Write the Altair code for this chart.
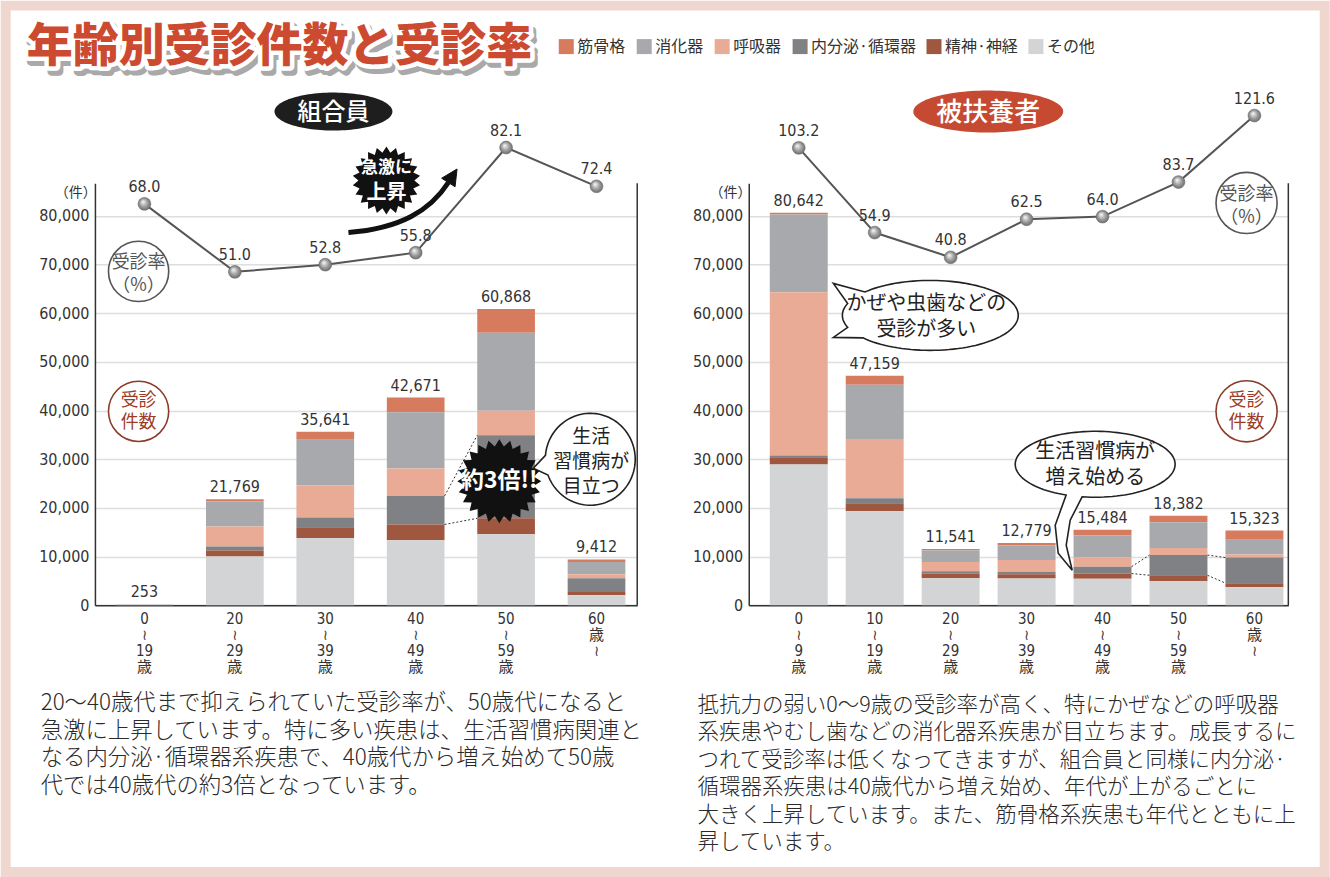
import altair as alt
import numpy as np
import pandas as pd

JP = "Noto Sans CJK JP"
NUM = "'Liberation Sans Narrow', 'DejaVu Sans Condensed', 'Noto Sans CJK JP', sans-serif"

# ---------------- data ----------------
title_text = "年齢別受診件数と受診率"
diseases = ["筋骨格", "消化器", "呼吸器", "内分泌·循環器", "精神·神経", "その他"]
disease_colors = ["#d77b5f", "#a8a9ac", "#e9ab96", "#808184", "#a0573f", "#d3d4d6"]
stack_rank = [5, 4, 3, 2, 1, 0]

# 組合員
ages_L = ["0|≀|19|歳", "20|≀|29|歳", "30|≀|39|歳", "40|≀|49|歳", "50|≀|59|歳", "60|歳|≀"]
L_kinkokkaku = [0, 469, 1641, 3031, 4868, 542]
L_shoka = [0, 5150, 9400, 11530, 16030, 2520]
L_kokyu = [0, 4100, 6600, 5660, 5070, 820]
L_naibunpi = [0, 800, 2000, 5870, 17050, 2800]
L_seishin = [0, 1250, 2200, 3230, 3250, 680]
L_sonota = [253, 10000, 13800, 13350, 14600, 2050]
L_total = [253, 21769, 35641, 42671, 60868, 9412]
L_rate = [68.0, 51.0, 52.8, 55.8, 82.1, 72.4]

# 被扶養者
ages_R = ["0|≀|9|歳", "10|≀|19|歳", "20|≀|29|歳", "30|≀|39|歳", "40|≀|49|歳", "50|≀|59|歳", "60|歳|≀"]
R_kinkokkaku = [352, 1839, 281, 489, 1134, 1362, 1853]
R_shoka = [15990, 11150, 2370, 3000, 4530, 5290, 3050]
R_kokyu = [33530, 12210, 1930, 2430, 1910, 1430, 640]
R_naibunpi = [370, 1000, 440, 500, 1410, 4150, 5250]
R_seishin = [1500, 1640, 1000, 860, 1060, 1210, 850]
R_sonota = [28900, 19320, 5520, 5500, 5440, 4940, 3680]
R_total = [80642, 47159, 11541, 12779, 15484, 18382, 15323]
R_rate = [103.2, 54.9, 40.8, 62.5, 64.0, 83.7, 121.6]

y_ticks = [0, 10000, 20000, 30000, 40000, 50000, 60000, 70000, 80000]

text_L = [
    "20〜40歳代まで抑えられていた受診率が、50歳代になると",
    "急激に上昇しています。特に多い疾患は、生活習慣病関連と",
    "なる内分泌·循環器系疾患で、40歳代から増え始めて50歳",
    "代では40歳代の約3倍となっています。",
]
text_R = [
    "抵抗力の弱い0〜9歳の受診率が高く、特にかぜなどの呼吸器",
    "系疾患やむし歯などの消化器系疾患が目立ちます。成長するに",
    "つれて受診率は低くなってきますが、組合員と同様に内分泌·",
    "循環器系疾患は40歳代から増え始め、年代が上がるごとに",
    "大きく上昇しています。また、筋骨格系疾患も年代とともに上",
    "昇しています。",
]

# ---------------- helpers ----------------
H = 422.3
YMAX = 86730
OY = 182.7
OXL = 94.3
OXR = 748.3


def long_df(ages, cols):
    rows = []
    for d, r, vals in zip(diseases, stack_rank, cols):
        for a, v in zip(ages, vals):
            rows.append({"age": a, "disease": d, "value": v, "rank": r})
    return pd.DataFrame(rows)


def link_df(ages, sonota, seishin, naibunpi, pairs):
    lo = [a + b for a, b in zip(sonota, seishin)]
    hi = [l + n for l, n in zip(lo, naibunpi)]
    rows = []
    for i, j in pairs:
        rows.append({"age": ages[i], "age2": ages[j], "y": lo[i], "y2": lo[j]})
        rows.append({"age": ages[i], "age2": ages[j], "y": hi[i], "y2": hi[j]})
    return pd.DataFrame(rows)


def ellipse_pts(rx, ry, a0, a1, n):
    t = np.radians(np.linspace(a0, a1, n))
    return list(zip(rx * np.cos(t), ry * np.sin(t)))


def bubble_path(rx, ry, tails=()):
    pts = []
    cur = 0
    for d0, d1, tp in tails:
        pts += ellipse_pts(rx, ry, cur, d0, max(2, int((d0 - cur) / 3)))
        pts += tp
        cur = d1
    pts += ellipse_pts(rx, ry, cur, 360, max(2, int((360 - cur) / 3)))
    return "M" + " L".join(f"{x:.2f} {y:.2f}" for x, y in pts) + " Z"


def star_path(n, ro, ri):
    k = np.arange(2 * n)
    t = np.radians(k * 180.0 / n - 90)
    r = np.where(k % 2 == 0, ro, ri)
    pts = list(zip(r * np.cos(t), r * np.sin(t)))
    return "M" + " L".join(f"{x:.2f} {y:.2f}" for x, y in pts) + " Z"


one = pd.DataFrame({"k": [0]})


def txt(s, x, y, size, color="#222", weight="normal", font=JP, align="center",
        baseline="middle", **kw):
    return alt.Chart(one).mark_text(
        fontSize=size, color=color, fontWeight=weight, font=font, align=align,
        baseline=baseline, **kw
    ).encode(x=alt.value(x), y=alt.value(y), text=alt.value(s))


def sym(path, x, y, size=4, **kw):
    return alt.Chart(one).mark_point(shape=path, size=size, opacity=1, **kw).encode(
        x=alt.value(x), y=alt.value(y)
    )


def circ(x, y, r, stroke):
    return alt.Chart(one).mark_point(
        shape="circle", size=float(np.pi * r * r), filled=True, fill="white",
        stroke=stroke, strokeWidth=1.6, opacity=1
    ).encode(x=alt.value(x), y=alt.value(y))


legend = alt.Legend(
    title=None, orient="none", legendX=558 - OXL, legendY=38 - OY,
    direction="horizontal", symbolType="square", symbolSize=225,
    symbolStrokeWidth=0, symbolOpacity=1, labelFont=JP, labelFontSize=16,
    labelColor="#333", labelOffset=3, columnPadding=10, padding=0,
)

sphere = alt.RadialGradient(
    gradient="radial",
    stops=[
        alt.GradientStop(color="#f6f6f6", offset=0),
        alt.GradientStop(color="#9d9d9d", offset=0.55),
        alt.GradientStop(color="#666666", offset=1),
    ],
    x1=0.38, y1=0.33, r1=0.02, x2=0.5, y2=0.5, r2=0.55,
)


def panel(ages, cols, totals, rates, rate_dom, W, pi, po, al, pairs, half_bw,
          back, front):
    xs = alt.Scale(domain=ages, paddingInner=pi, paddingOuter=po, align=al)
    xa = alt.Axis(
        title=None, labelAngle=0, labelExpr="split(datum.label, '|')",
        labelFont=NUM, labelFontSize=15, labelLineHeight=16, labelPadding=6,
        labelColor="#333", ticks=False, domainColor="#333", domainWidth=1.5,
        grid=False, labelBaseline="top",
    )
    ys = alt.Scale(domain=[0, YMAX], nice=False, zero=True)
    ya = alt.Axis(
        title=None, values=y_ticks, format=",.0f", labelFont=NUM, labelFontSize=16,
        labelColor="#333", labelPadding=6, ticks=False, domainColor="#333",
        domainWidth=1.5, gridColor="#dedede", gridWidth=1.5,
    )

    def X(f="age:N", **kw):
        return alt.X(f, scale=xs, axis=xa, **kw)

    def Y(f, **kw):
        return alt.Y(f, scale=ys, axis=ya, **kw)

    df = long_df(ages, cols)
    bars = alt.Chart(df).mark_bar().encode(
        x=X(),
        y=Y("value:Q", stack="zero"),
        color=alt.Color("disease:N", scale=alt.Scale(domain=diseases, range=disease_colors),
                        legend=legend),
        order=alt.Order("rank:Q", sort="ascending"),
    )
    tdf = pd.DataFrame({"age": ages, "total": totals})
    tot = alt.Chart(tdf).mark_text(
        font=NUM, fontSize=16, color="#333", baseline="alphabetic", dy=-7
    ).encode(x=X(), y=Y("total:Q"), text=alt.Text("total:Q", format=","))

    layers = list(back) + [bars, tot]
    if pairs:
        ldf = link_df(ages, cols[5], cols[4], cols[3], pairs)
        links = alt.Chart(ldf).mark_rule(
            strokeDash=[2, 2], color="#333", strokeWidth=1,
            xOffset=half_bw, x2Offset=-half_bw,
        ).encode(x=X("age:N", bandPosition=0.5), x2=alt.X2("age2"),
                 y=Y("y:Q"), y2=alt.Y2("y2"))
        layers.append(links)
    frame = alt.Chart(one).mark_rule(color="#333", strokeWidth=1.5).encode(
        x=alt.value(W), y=alt.value(0), y2=alt.value(H)
    )
    layers.append(frame)
    layers += list(front)
    count_layer = alt.layer(*layers)

    rs = alt.Scale(domain=rate_dom, nice=False, zero=False)
    rdf = pd.DataFrame({"age": ages, "rate": rates})
    ry = alt.Y("rate:Q", scale=rs, axis=None)
    line = alt.Chart(rdf).mark_line(color="#555", strokeWidth=2).encode(x=X(), y=ry)
    pts = alt.Chart(rdf).mark_circle(
        size=165, fill=sphere, stroke="#6d6d6d", strokeWidth=0.6, opacity=1
    ).encode(x=X(), y=ry)
    lbl = alt.Chart(rdf).mark_text(
        font=NUM, fontSize=16, color="#333", baseline="alphabetic", dy=-12
    ).encode(x=X(), y=ry, text=alt.Text("rate:Q", format=".1f"))
    rate_layer = alt.layer(line, pts, lbl)

    return alt.layer(count_layer, rate_layer).resolve_scale(y="independent").properties(
        width=W, height=H
    )


def Lp(x, y):
    return x - OXL, y - OY


def Rp(x, y):
    return x - OXR, y - OY


# ---------------- left decorations ----------------
back_L = []
back_L.append(
    alt.Chart(one).mark_rect(fillOpacity=0, stroke="#efd6cf", strokeWidth=10).encode(
        x=alt.value(-OXL + 5), x2=alt.value(1330 - OXL - 5),
        y=alt.value(-OY + 5), y2=alt.value(877 - OY - 5),
    )
)
tx, ty = Lp(279, 46)
back_L.append(txt(title_text, tx + 3, ty + 5, 46, color="#a9a9a9", weight=900,
                  stroke="#a9a9a9", strokeWidth=9, strokeJoin="round"))
back_L.append(txt(title_text, tx, ty, 46, color="white", weight=900,
                  stroke="white", strokeWidth=9, strokeJoin="round"))
back_L.append(txt(title_text, tx, ty, 46, color="#cc4a30", weight=900))
bx, by = Lp(333, 111)
back_L.append(sym(bubble_path(59, 19), bx, by, filled=True, fill="#1e1e1e", strokeWidth=0))
back_L.append(txt("組合員", bx, by + 1, 24, color="white", weight=500))
x_, y_ = Lp(75, 193)
back_L.append(txt("（件）", x_, y_, 14, color="#333"))
cx, cy = Lp(138, 271)
back_L.append(circ(cx, cy, 34, "#555"))
back_L.append(txt(["受診率", "（%）"], cx, cy - 8, 18, color="#555", lineHeight=23))
cx, cy = Lp(138, 411)
back_L.append(circ(cx, cy, 34, "#8c3b28"))
back_L.append(txt(["受診", "件数"], cx, cy - 10, 18, color="#9e3b26", lineHeight=22))
sx, sy = Lp(386, 180)
back_L.append(sym(star_path(22, 34, 28), sx, sy, filled=True, fill="#111", strokeWidth=0))
back_L.append(txt("急激に", sx, sy - 12, 17, color="white", weight="bold"))
back_L.append(txt("上昇", sx, sy + 13, 20, color="white", weight="bold"))
ax, ay = Lp(400, 200)
back_L.append(sym("M -52 32 C 0 28 30 10 48 -18", ax, ay, filled=False,
                  stroke="#111", strokeWidth=5))
back_L.append(sym("M 56.7 -31.5 L 54.7 -13.7 L 41.3 -22.3 Z", ax, ay, filled=True,
                  fill="#111", stroke="#111", strokeWidth=1))

front_L = []
sx, sy = Lp(499, 481)
front_L.append(sym(star_path(24, 42, 35), sx, sy, filled=True, fill="#111", strokeWidth=0))
front_L.append(txt("約3倍!!", sx, sy, 23, color="white", weight="bold"))
bx, by = Lp(590, 459)
front_L.append(sym(bubble_path(45, 46, [(160, 185, [(-57, 9)])]), bx, by,
                   filled=True, fill="white", stroke="#222", strokeWidth=1.6))
front_L.append(txt(["生活", "習慣病が", "目立つ"], bx + 1, by - 22, 19, color="#222",
                   lineHeight=25))
px_, py_ = Lp(40, 703)
front_L.append(txt(text_L, px_, py_, 22.4, color="#2a2a2a", weight=300, align="left",
                   lineHeight=27.7))

# ---------------- right decorations ----------------
back_R = []
bx, by = Rp(988, 111)
back_R.append(sym(bubble_path(75, 21), bx, by, filled=True, fill="#c64a32", strokeWidth=0))
back_R.append(txt("被扶養者", bx, by + 1, 26, color="white", weight=500))
x_, y_ = Rp(730, 193)
back_R.append(txt("（件）", x_, y_, 14, color="#333"))
cx, cy = Rp(1246.5, 202.5)
back_R.append(circ(cx, cy, 34.5, "#555"))
back_R.append(txt(["受診率", "（%）"], cx, cy - 8, 18, color="#555", lineHeight=23))
cx, cy = Rp(1246.5, 411)
back_R.append(circ(cx, cy, 34.5, "#8c3b28"))
back_R.append(txt(["受診", "件数"], cx, cy - 10, 18, color="#9e3b26", lineHeight=22))

front_R = []
bx, by = Rp(930, 315)
front_R.append(sym(bubble_path(88, 35, [(140, 160, [(-97, 22)]), (200, 222, [(-97, -32)])]),
                   bx, by, filled=True, fill="white", stroke="#222", strokeWidth=1.6))
front_R.append(txt(["かぜや虫歯などの", "受診が多い"], bx - 4, by - 11, 20, color="#222",
                   lineHeight=26))
bx, by = Rp(1095, 464)
front_R.append(sym(bubble_path(80, 33, [(99.4, 111.3, [(-25, 56), (-29, 81), (-23, 106),
                                                       (-37, 89), (-40, 61)])]),
                   bx, by, filled=True, fill="white", stroke="#222", strokeWidth=1.6))
front_R.append(txt(["生活習慣病が", "増え始める"], bx, by - 12, 20, color="#222", lineHeight=26))
px_, py_ = Rp(697, 706)
front_R.append(txt(text_R, px_, py_, 21.5, color="#2a2a2a", weight=300, align="left",
                   lineHeight=27.4))

# ---------------- panels ----------------
left = panel(
    ages_L,
    [L_kinkokkaku, L_shoka, L_kokyu, L_naibunpi, L_seishin, L_sonota],
    L_total, L_rate, [-32.4, 73.18], 542.7, 0.362, 0.18, 0.635, [(3, 4)], 28.9,
    back_L, front_L,
)
right = panel(
    ages_R,
    [R_kinkokkaku, R_shoka, R_kokyu, R_naibunpi, R_seishin, R_sonota],
    R_total, R_rate, [-157.5, 83.05], 540, 0.237, 0.171, 0.81, [(4, 5), (5, 6)], 29,
    back_R, front_R,
)

chart = alt.hconcat(left, right, spacing=111.3, bounds="flush").properties(
    padding=0, background="white"
).configure_view(stroke=None)

chart.save("out.html", embed_options={"renderer": "svg", "actions": False})
